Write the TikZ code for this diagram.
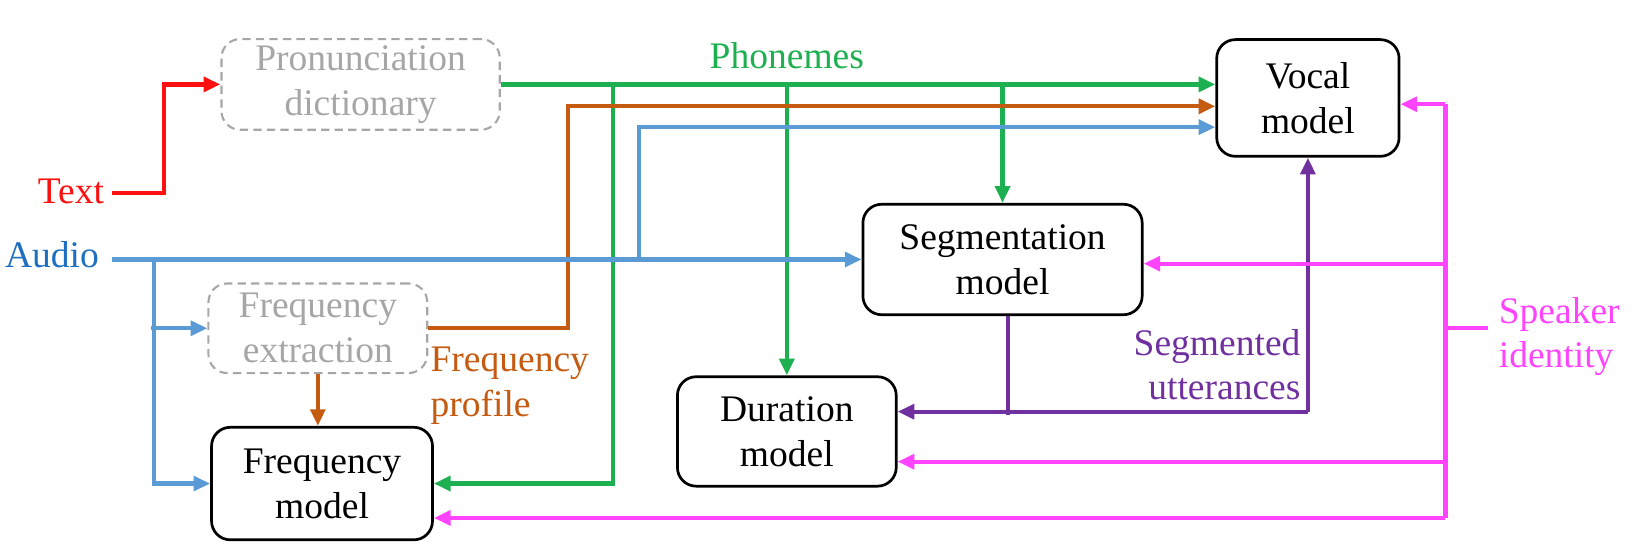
\documentclass[tikz,border=0pt]{standalone}
\usepackage{fontspec}
\setmainfont{Liberation Serif}
\usetikzlibrary{arrows.meta,calc}
\definecolor{cred}{HTML}{FF1010}
\definecolor{cgreen}{HTML}{1CB050}
\definecolor{corange}{HTML}{C55A11}
\definecolor{cblue}{HTML}{5B9BD5}
\definecolor{cbluetext}{HTML}{1F6FC0}
\definecolor{cpurple}{HTML}{7030A0}
\definecolor{cmagenta}{HTML}{FF44FF}
\definecolor{cgray}{HTML}{A6A6A6}
\begin{document}
\begin{tikzpicture}[x=1pt,y=-1pt,
  txt/.style={font=\fontsize{36}{43}\selectfont,inner sep=0pt},
  box/.style={txt,draw=black,line width=2.6pt,rounded corners=18pt,align=center},
  dbox/.style={box,draw=cgray,line width=2pt,dash pattern=on 8pt off 5pt,text=cgray},
  wire/.style={line width=4pt},
  conn/.style={wire,-{Triangle[length=16pt,width=14pt]}}]
\useasboundingbox (0,0) rectangle (1566,535.5);
% boxes
\node[dbox,minimum width=267pt,minimum height=87pt] (pron) at (346,81) {Pronunciation\\dictionary};
\node[dbox,minimum width=210pt,minimum height=86pt] (fext) at (305,315) {Frequency\\extraction};
\node[box,minimum width=212pt,minimum height=108pt] (fmod) at (309,464) {Frequency\\model};
\node[box,minimum width=268pt,minimum height=106pt] (seg) at (962,249) {Segmentation\\model};
\node[box,minimum width=210pt,minimum height=105pt] (dur) at (755,414) {Duration\\model};
\node[box,minimum width=175pt,minimum height=112pt] (voc) at (1255,94) {Vocal\\model};
% labels
\node[txt,text=cred,anchor=base east] (ltext) at (100,195) {Text};
\node[txt,text=cbluetext,anchor=base east] (laudio) at (95,257) {Audio};
\node[txt,text=cgreen,anchor=base] (lphon) at (755,66) {Phonemes};
\node[txt,text=corange,align=left,anchor=west] (lfp) at (413,370) {Frequency\\profile};
\node[txt,text=cpurple,align=right,anchor=east] (lseg) at (1248,350) {Segmented\\utterances};
\node[txt,text=cmagenta,align=left,anchor=west] (lspk) at (1438,323) {Speaker\\identity};
% red
\draw[conn,cred] ([xshift=7pt]ltext.east |- 0,185) -- (157,185) |- (pron.west);
% green
\coordinate (g1) at (588,81);
\coordinate (g2) at (755,81);
\coordinate (g3) at (962,81);
\draw[conn,cgreen] (pron.east) -- (pron.east -| voc.west);
\draw[conn,cgreen] (g1) |- (fmod.east);
\draw[conn,cgreen] (g2) -- (dur.north);
\draw[conn,cgreen] (g3) -- (seg.north);
% orange
\coordinate (o1) at (545,102);
\draw[conn,corange] (fext.east) -| (o1) -- (o1 -| voc.west);
\draw[conn,corange] (fext.south) -- (fext.south |- fmod.north);
% blue
\coordinate (a0) at (107,249);
\coordinate (a1) at (148,249);
\coordinate (a2) at (613,249);
\coordinate (b2) at (613,122);
\draw[conn,cblue] (a0) -- (a0 -| seg.west);
\draw[conn,cblue] (a1) |- (fmod.west);
\draw[conn,cblue] (145,315) -- (fext.west);
\draw[conn,cblue] (a2) -- (b2) -- (b2 -| voc.west);
% purple
\coordinate (p1) at (1255,395);
\draw[wire,cpurple] ([xshift=5pt]seg.south) -- ++(0,95);
\draw[conn,cpurple] (p1) -- (p1 -| dur.east);
\draw[conn,cpurple] (p1) -- (voc.south);
% magenta
\coordinate (m1) at (1387,100);
\coordinate (m2) at (1387,253);
\coordinate (m3) at (1387,443);
\coordinate (m4) at (1387,497);
\draw[wire,cmagenta] (m1) -- (m4);
\draw[wire,cmagenta] (1387,315) -- (1428,315);
\draw[conn,cmagenta] (m1) -- (m1 -| voc.east);
\draw[conn,cmagenta] (m2) -- (m2 -| seg.east);
\draw[conn,cmagenta] (m3) -- (m3 -| dur.east);
\draw[conn,cmagenta] (m4) -- (m4 -| fmod.east);
\end{tikzpicture}
\end{document}
